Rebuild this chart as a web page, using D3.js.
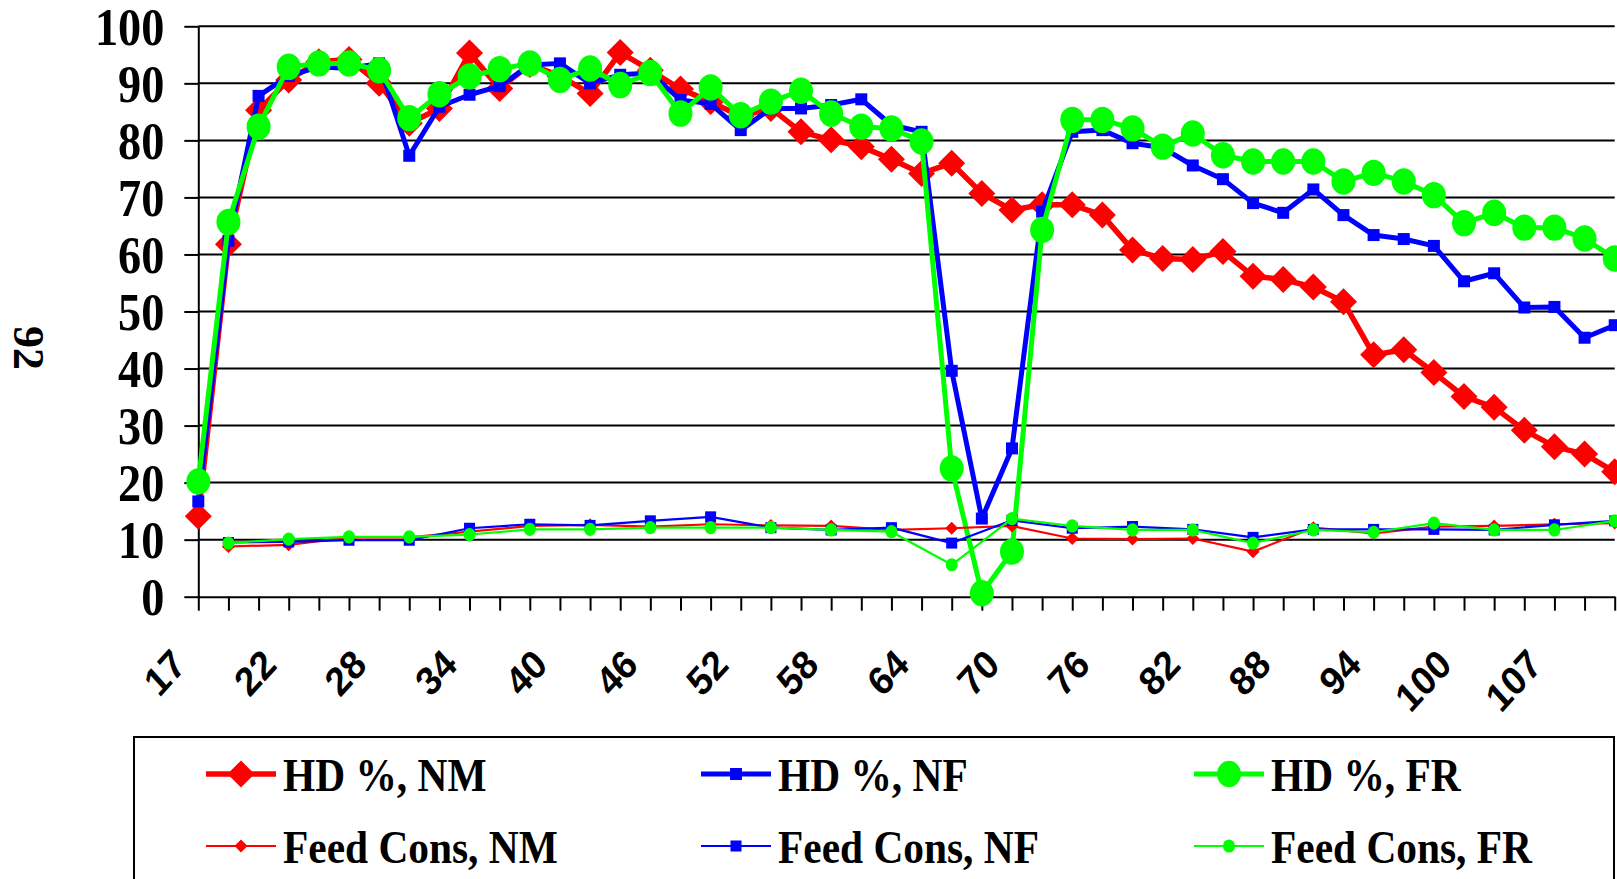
<!DOCTYPE html>
<html><head><meta charset="utf-8">
<script src="https://cdn.jsdelivr.net/npm/d3@7"></script>
<style>html,body{margin:0;padding:0;background:#fff;overflow:hidden}</style>
</head><body>
<svg id="chart" width="1617" height="879"></svg>
<script>
// ---------- data ----------
const weeks = ['17','18','20','22','24','26','28','30','32','34','36','38','40','42','44','46',
  '48','50','52','54','56','58','60','62','64','66','68','70','72','74','76','78','80','82',
  '84','86','88','90','92','94','96','98','100','102','105','107','109','111'];
const shownWeeks = ['17','22','28','34','40','46','52','58','64','70','76','82','88','94','100','107'];
const yTicks = [0,10,20,30,40,50,60,70,80,90,100];

const hdNM = [14.1,61.8,85.3,90.6,93.8,94.2,90.0,83.0,85.6,95.3,89.1,93.3,91.3,88.2,95.4,92.3,
  89.0,86.8,84.2,85.6,81.5,80.1,78.9,76.7,74.2,76.0,70.7,67.8,68.7,68.7,66.9,60.8,59.3,59.1,
  60.5,56.2,55.6,54.3,51.7,42.4,43.3,39.3,35.1,33.2,29.2,26.3,25.0,21.9];
const hdNF = [16.7,62.4,87.8,91.3,92.9,92.6,93.5,77.3,85.9,88.0,89.5,93.2,93.5,90.0,91.5,91.8,
  87.1,86.4,81.8,85.6,85.6,86.2,87.2,82.7,81.5,39.6,13.7,26.0,67.5,81.5,81.8,79.5,78.7,75.6,
  73.2,69.0,67.3,71.4,66.9,63.4,62.7,61.5,55.3,56.7,50.7,50.8,45.4,47.6];
const hdFR = [20.2,65.7,82.4,92.9,93.5,93.5,92.3,83.9,88.1,91.2,92.5,93.5,90.6,92.6,89.7,91.8,
  84.7,89.3,84.4,86.8,88.7,84.7,82.4,82.1,79.8,22.5,0.6,7.9,64.3,83.6,83.6,82.1,78.9,81.2,
  77.4,76.3,76.3,76.3,72.8,74.3,72.8,70.4,65.5,67.3,64.7,64.7,62.8,59.3];
const feedNM = [null,8.8,null,9.1,null,10.4,null,10.4,null,11.4,null,12.4,null,12.6,null,12.3,
  null,12.7,null,12.5,null,12.4,null,11.7,null,12.0,null,12.4,null,10.2,null,10.1,null,10.2,
  null,7.9,null,12.1,null,11.1,null,12.3,null,12.4,null,12.7,null,12.9];
const feedNF = [null,9.5,null,9.6,null,9.9,null,9.9,null,12.0,null,12.7,null,12.5,null,13.3,
  null,14.0,null,12.1,null,11.7,null,12.1,null,9.4,null,13.4,null,12.0,null,12.3,null,11.8,
  null,10.4,null,11.8,null,11.8,null,11.8,null,11.7,null,12.6,null,13.3];
const feedFR = [null,9.4,null,10.1,null,10.5,null,10.5,null,10.9,null,11.8,null,11.8,null,12.1,
  null,12.1,null,12.1,null,11.7,null,11.4,null,5.6,null,13.7,null,12.4,null,11.7,null,11.7,
  null,9.4,null,11.7,null,11.3,null,12.9,null,11.7,null,11.7,null,13.3];
const seriesNames = ['HD %, NM','HD %, NF','HD %, FR','Feed Cons, NM','Feed Cons, NF','Feed Cons, FR'];
const sideLabel = '92';

// ---------- chart ----------
const svg = d3.select('#chart');
const SERIF = '"Liberation Serif","Times New Roman",serif';
const SANS = '"Liberation Sans",Arial,sans-serif';
const x = d3.scalePoint().domain(weeks).range([198.3, 1614.7]);
const y = d3.scaleLinear().domain([0, 100]).range([596.7, 26.3]);

// gridlines
svg.append('g').selectAll('line').data(yTicks.filter(d => d > 0)).join('line')
  .attr('x1', x.range()[0]).attr('x2', x.range()[1])
  .attr('y1', d => y(d)).attr('y2', d => y(d))
  .attr('stroke', '#000').attr('stroke-width', 2);

// y axis
const gy = svg.append('g').attr('transform', `translate(${x.range()[0]},0)`)
  .call(d3.axisLeft(y).tickValues(yTicks).tickSize(14).tickSizeOuter(0));
gy.selectAll('path,line').attr('stroke', '#000').attr('stroke-width', 2);
gy.selectAll('text').attr('x', null).attr('dy', null)
  .attr('transform', 'translate(-34,18) scale(0.89,1)')
  .attr('text-anchor', 'end').attr('fill', '#000')
  .style('font-family', SERIF).style('font-weight', 'bold').style('font-size', '52px');

// x axis
const gx = svg.append('g').attr('transform', `translate(0,${y(0)})`)
  .call(d3.axisBottom(x).tickSize(14).tickSizeOuter(0)
    .tickFormat(d => shownWeeks.includes(d) ? d : ''));
gx.selectAll('path,line').attr('stroke', '#000').attr('stroke-width', 2);
gx.selectAll('text').attr('y', null).attr('dy', null)
  .attr('transform', 'translate(-11,70) scale(0.91,1) rotate(-45)')
  .attr('text-anchor', 'end').attr('fill', '#000')
  .style('font-family', SANS).style('font-weight', 'bold').style('font-size', '40px');

// side label
svg.append('text').attr('transform', 'translate(14,348) rotate(90)')
  .attr('text-anchor', 'middle').attr('fill', '#000')
  .style('font-family', SERIF).style('font-weight', 'bold').style('font-size', '44px')
  .text(sideLabel);

// series definitions
const series = [
  { name: seriesNames[0], values: hdNM, color: '#ff0000', lw: 5.5, marker: 'diamond', ms: 27 },
  { name: seriesNames[1], values: hdNF, color: '#0000ff', lw: 5, marker: 'square', ms: 12 },
  { name: seriesNames[2], values: hdFR, color: '#00ff00', lw: 5, marker: 'circle', ms: 24 },
  { name: seriesNames[3], values: feedNM, color: '#ff0000', lw: 2.2, marker: 'diamond', ms: 13 },
  { name: seriesNames[4], values: feedNF, color: '#0000ff', lw: 2.2, marker: 'square', ms: 11 },
  { name: seriesNames[5], values: feedFR, color: '#00ff00', lw: 2.2, marker: 'circle', ms: 12 }
];

function drawMarker(g, type, s, color) {
  if (type === 'diamond') {
    g.append('path').attr('d', `M0,${-s/2}L${s/2},0L0,${s/2}L${-s/2},0Z`).attr('fill', color);
  } else if (type === 'square') {
    g.append('rect').attr('x', -s/2).attr('y', -s/2).attr('width', s).attr('height', s).attr('fill', color);
  } else {
    g.append('ellipse').attr('rx', s/2).attr('ry', s/2 * 1.1).attr('fill', color);
  }
}

const line = d3.line().x(d => x(d.w)).y(d => y(d.v));
series.forEach(s => {
  const pts = weeks.map((w, i) => ({ w, v: s.values[i] })).filter(d => d.v !== null);
  const g = svg.append('g');
  g.append('path').datum(pts).attr('d', line).attr('fill', 'none')
    .attr('stroke', s.color).attr('stroke-width', s.lw).attr('stroke-linejoin', 'round');
  pts.forEach(p => {
    const mg = g.append('g').attr('transform', `translate(${x(p.w)},${y(p.v)})`);
    drawMarker(mg, s.marker, s.ms, s.color);
  });
});

// legend
const leg = svg.append('g');
leg.append('rect').attr('x', 134).attr('y', 737).attr('width', 1480).attr('height', 200)
  .attr('fill', '#fff').attr('stroke', '#000').attr('stroke-width', 2);
const colX = [206, 701, 1194];
const rowY = [774, 846];
series.forEach((s, i) => {
  const cx = colX[i % 3], cy = rowY[Math.floor(i / 3)];
  const g = leg.append('g');
  g.append('line').attr('x1', cx).attr('x2', cx + 70).attr('y1', cy).attr('y2', cy)
    .attr('stroke', s.color).attr('stroke-width', s.lw);
  const mg = g.append('g').attr('transform', `translate(${cx + 35},${cy})`);
  drawMarker(mg, s.marker, s.ms, s.color);
  g.append('text').attr('transform', `translate(${cx + 77},${cy + 17}) scale(0.9,1)`)
    .attr('fill', '#000').style('font-family', SERIF).style('font-weight', 'bold')
    .style('font-size', '46px').text(s.name);
});
</script>
</body></html>
